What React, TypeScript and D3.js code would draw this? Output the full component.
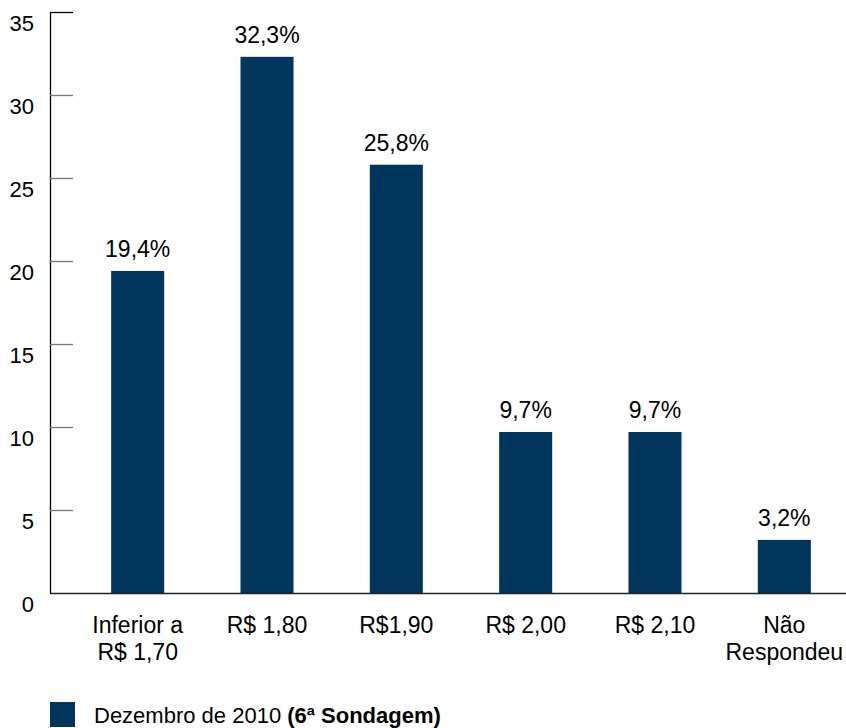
import * as d3 from 'd3';
import React, { useEffect, useRef } from 'react';

const categories = ['Inferior a\nR$ 1,70', 'R$ 1,80', 'R$1,90', 'R$ 2,00', 'R$ 2,10', 'Não\nRespondeu'];
const values = [19.4, 32.3, 25.8, 9.7, 9.7, 3.2];
const yTicks = [0, 5, 10, 15, 20, 25, 30, 35];
const legendLabel = 'Dezembro de 2010';
const legendBold = '(6ª Sondagem)';

const W = 846;
const H = 728;
const barColor = '#02355c';
const font = 'Liberation Sans, Arial, sans-serif';

const App = () => {
  const ref = useRef<SVGSVGElement>(null);

  useEffect(() => {
    const svg = d3.select(ref.current);
    svg.selectAll('*').remove();

    const x = d3.scaleBand<number>()
      .domain(d3.range(categories.length))
      .range([73, 849])
      .paddingInner(0.59)
      .paddingOuter(0.295);

    const y = d3.scaleLinear().domain([0, 35]).range([593, 12]);

    // y axis: line plus short ticks pointing inward
    svg.append('line')
      .attr('x1', 50.5).attr('x2', 50.5)
      .attr('y1', y(35)).attr('y2', y(0))
      .attr('stroke', '#000').attr('stroke-width', 1.3);

    svg.selectAll('.tick')
      .data(yTicks.filter(d => d > 0))
      .enter().append('line')
      .attr('x1', 50).attr('x2', 73)
      .attr('y1', d => Math.round(y(d)) + 0.5).attr('y2', d => Math.round(y(d)) + 0.5)
      .attr('stroke', d => d === 35 ? '#000' : '#777').attr('stroke-width', 1.3);

    svg.selectAll('.ylab')
      .data(yTicks)
      .enter().append('text')
      .attr('x', 34)
      .attr('y', d => y(d) + 19)
      .attr('text-anchor', 'end')
      .attr('font-family', font)
      .attr('font-size', 22)
      .attr('fill', '#000')
      .text(d => d);

    // bars
    svg.selectAll('.bar')
      .data(values)
      .enter().append('rect')
      .attr('x', (d, i) => x(i)!)
      .attr('width', x.bandwidth())
      .attr('y', d => y(d))
      .attr('height', d => y(0) - y(d))
      .attr('fill', barColor);

    // baseline
    svg.append('line')
      .attr('x1', 50).attr('x2', W)
      .attr('y1', y(0) + 0.5).attr('y2', y(0) + 0.5)
      .attr('stroke', '#222').attr('stroke-width', 1.3);

    // value labels
    svg.selectAll('.val')
      .data(values)
      .enter().append('text')
      .attr('x', (d, i) => x(i)! + x.bandwidth() / 2)
      .attr('y', d => y(d) - 14)
      .attr('text-anchor', 'middle')
      .attr('font-family', font)
      .attr('font-size', 23)
      .attr('fill', '#000')
      .text(d => d.toFixed(1).replace('.', ',') + '%');

    // category labels
    const cat = svg.selectAll('.cat')
      .data(categories)
      .enter().append('text')
      .attr('text-anchor', 'middle')
      .attr('font-family', font)
      .attr('font-size', 23)
      .attr('fill', '#000');
    cat.each(function (d, i) {
      const t = d3.select(this);
      d.split('\n').forEach((line, j) => {
        t.append('tspan')
          .attr('x', x(i)! + x.bandwidth() / 2)
          .attr('y', 633 + j * 27)
          .text(line);
      });
    });

    // legend
    svg.append('rect')
      .attr('x', 50).attr('y', 702)
      .attr('width', 25).attr('height', 25)
      .attr('fill', barColor);
    const lt = svg.append('text')
      .attr('x', 94).attr('y', 723)
      .attr('font-family', font)
      .attr('font-size', 22)
      .attr('fill', '#000');
    lt.append('tspan').text(legendLabel + ' ');
    lt.append('tspan').attr('font-weight', 'bold').text(legendBold);
  });

  return (
    <div style={{ position: 'absolute', left: 0, top: 0 }}>
      <svg ref={ref} width={W} height={H} style={{ display: 'block' }} />
    </div>
  );
};

export default App;
